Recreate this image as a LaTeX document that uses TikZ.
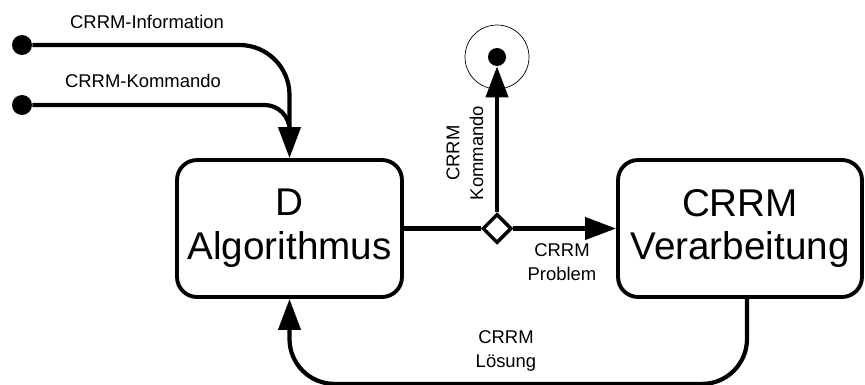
\documentclass[tikz,border=0pt]{standalone}
\usepackage{fontspec}
\setmainfont{Liberation Sans}
\usetikzlibrary{arrows.meta,shapes.geometric,positioning}
\tikzset{
	block/.style={draw,line width=2.2pt,rounded corners=0.4cm,fill=white,align=center,
		minimum width=4.5cm,minimum height=2.74cm,font=\fontsize{22}{25}\selectfont},
	dot/.style={circle,fill=black,inner sep=0,minimum size=0.4cm},
	ring/.style={circle,draw,thin,inner sep=0,minimum size=1.28cm},
	split/.style={diamond,draw,line width=2pt,fill=white,inner sep=0,minimum size=0.58cm},
	wire/.style={line width=2.4pt,color=black},
	flow/.style={-{Triangle[length=0.62cm,width=0.44cm]},line width=2.4pt,color=black},
	flowlabel/.style={align=center,font=\fontsize{10.5}{13.5}\selectfont}
}
\begin{document}
\begin{tikzpicture}[x=0.02cm,y=-0.02cm]
		\useasboundingbox (0,0) rectangle (865,385);
		%%%blocks
		\node[block] (alg) at (289.5,228.5) {D\\Algorithmus};
		\node[block,minimum width=4.88cm] (verarb) at (740,228.5) {CRRM\\Verarbeitung};
		\node[split] (branch) at (497,228.5) {};
		
		%%%inputs and sink
		\node[dot] (info) at (22,45) {};
		\node[dot] (kmd) at (22,105) {};
		\node[ring] (sink) at (497,57) {};
		\node[dot,minimum size=0.36cm] (sinkdot) at (497,57) {};
		\coordinate (merge) at (289.5,132);
		
		\draw[flow,rounded corners=1cm] (info) -| (alg.north);
		\draw[wire,rounded corners=0.5cm] (kmd) -| (merge);
		
		\draw[wire] (alg) -- (branch);
		\draw[flow] (branch) -- (verarb);
		\draw[flow] (branch) -- (sinkdot);
		\draw[flow,rounded corners=0.9cm] ([xshift=0.14cm]verarb.south) -- ++(0,85) -| (alg.south);
		
		%%%labels
		\node[flowlabel] (infolabel) at (147,22) {CRRM-Information};
		\node[flowlabel] (kmdlabel) at (143,81) {CRRM-Kommando};
		\node[flowlabel,rotate=90] (sinklabel) at (465,153) {CRRM\\Kommando};
		\node[flowlabel] (problabel) at (562,262) {CRRM\\Problem};
		\node[flowlabel] (loeslabel) at (506,351) {CRRM\\Lösung};
	\end{tikzpicture}
\end{document}
